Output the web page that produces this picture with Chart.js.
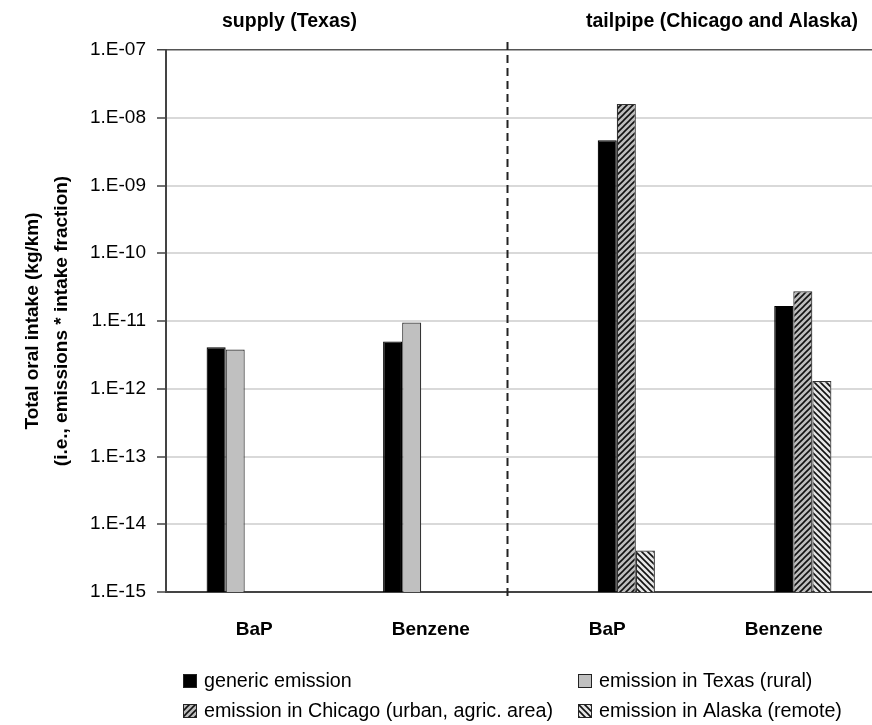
<!DOCTYPE html>
<html>
<head>
<meta charset="utf-8">
<script src="https://cdn.jsdelivr.net/npm/chart.js@4/dist/chart.umd.min.js"></script>
<style>
  html, body { margin: 0; padding: 0; background: #fff; }
  #wrap { width: 872px; height: 725px; position: relative; }
</style>
</head>
<body>
<div id="wrap"><canvas id="intakeChart" width="872" height="725"></canvas></div>
<script>
// substances on the x axis, two per source group
var categories = ['BaP', 'Benzene', 'BaP', 'Benzene'];
var groupLabels = ['supply (Texas)', 'tailpipe (Chicago and Alaska)'];

// total oral intake, kg/km
var genericSupply   = [4.1e-12, 5.0e-12, null, null];
var texasRural      = [3.8e-12, 9.5e-12, null, null];
var genericTailpipe = [null, null, 4.65e-9, 1.67e-11];
var chicagoUrban    = [null, null, 1.6e-8, 2.75e-11];
var alaskaRemote    = [null, null, 4.1e-15, 1.3e-12];

var seriesNames = [
    'generic emission',
    'emission in Texas (rural)',
    'emission in Chicago (urban, agric. area)',
    'emission in Alaska (remote)'
];

var yTickValues = [1e-15, 1e-14, 1e-13, 1e-12, 1e-11, 1e-10, 1e-9, 1e-8, 1e-7];
var yTickLabels = ['1.E-15', '1.E-14', '1.E-13', '1.E-12', '1.E-11', '1.E-10', '1.E-09', '1.E-08', '1.E-07'];

var canvas = document.getElementById('intakeChart');
var ctx = canvas.getContext('2d');

function makeHatch(bg, dir) {
    var tile = document.createElement('canvas');
    tile.width = 6; tile.height = 6;
    var g = tile.getContext('2d');
    g.fillStyle = bg;
    g.fillRect(0, 0, 6, 6);
    g.strokeStyle = '#111';
    g.lineWidth = 1.6;
    g.beginPath();
    if (dir > 0) {
        g.moveTo(-1, 7); g.lineTo(7, -1);
        g.moveTo(-1, 1); g.lineTo(1, -1);
        g.moveTo(5, 7); g.lineTo(7, 5);
    } else {
        g.moveTo(-1, -1); g.lineTo(7, 7);
        g.moveTo(5, -1); g.lineTo(7, 1);
        g.moveTo(-1, 5); g.lineTo(1, 7);
    }
    g.stroke();
    return ctx.createPattern(tile, 'repeat');
}

var chicagoFill = makeHatch('#bdbdbd', 1);
var alaskaFill = makeHatch('#e6e6e6', -1);
var swatchFills = ['#000000', '#c0c0c0', chicagoFill, alaskaFill];

// group headings, dashed separator and the two-column legend
var extrasPlugin = {
    id: 'extras',
    afterDatasetsDraw: function (chart) {
        var c = chart.ctx;
        var x = chart.scales.x;
        var area = chart.chartArea;
        c.save();
        // dashed separator between supply and tailpipe
        var sepX = Math.round(x.getPixelForValue(1.43)) + 0.5;
        c.strokeStyle = '#222';
        c.lineWidth = 2;
        c.setLineDash([8, 5]);
        c.beginPath();
        c.moveTo(sepX, area.top - 8);
        c.lineTo(sepX, area.bottom + 6);
        c.stroke();
        c.setLineDash([]);

        // group headings
        c.fillStyle = '#000';
        c.font = 'bold 19.5px "Liberation Sans", Arial, sans-serif';
        c.textAlign = 'center';
        c.textBaseline = 'middle';
        c.fillText(groupLabels[0], x.getPixelForValue(0.2), 22);
        c.fillText(groupLabels[1], x.getPixelForValue(2.65), 22);

        // legend
        var cols = [area.left + 17, area.left + 412];
        var rows = [681, 711];
        c.font = '19.7px "Liberation Sans", Arial, sans-serif';
        c.textAlign = 'left';
        for (var i = 0; i < seriesNames.length; i++) {
            var lx = cols[i % 2];
            var ly = rows[Math.floor(i / 2)];
            c.fillStyle = swatchFills[i];
            c.fillRect(lx, ly - 7, 14, 14);
            c.strokeStyle = '#222';
            c.lineWidth = 1;
            c.strokeRect(lx + 0.5, ly - 6.5, 13, 13);
            c.fillStyle = '#000';
            c.fillText(seriesNames[i], lx + 21, ly + 1);
        }
        c.restore();
    }
};

function barSet(label, data, fill, border) {
    return {
        label: label,
        data: data,
        backgroundColor: fill,
        borderColor: border,
        borderWidth: 1.2,
        borderSkipped: 'bottom',
        categoryPercentage: 0.54,
        barPercentage: 1.0
    };
}

new Chart(canvas, {
    type: 'bar',
    data: {
        labels: categories,
        datasets: [
            barSet(seriesNames[0], genericSupply, '#000000', '#000000'),
            barSet(seriesNames[1], texasRural, '#c0c0c0', '#333333'),
            barSet(seriesNames[0], genericTailpipe, '#000000', '#000000'),
            barSet(seriesNames[2], chicagoUrban, chicagoFill, '#333333'),
            barSet(seriesNames[3], alaskaRemote, alaskaFill, '#333333')
        ]
    },
    options: {
        responsive: false,
        animation: false,
        layout: { padding: { top: 50, right: 0, left: 0, bottom: 0 } },
        plugins: {
            legend: { display: false },
            tooltip: { enabled: false }
        },
        scales: {
            x: {
                grid: { display: false, drawTicks: false },
                border: { display: true, color: '#444', width: 2 },
                ticks: {
                    padding: 26,
                    color: '#000',
                    font: { family: '"Liberation Sans", Arial, sans-serif', size: 19, weight: 'bold' }
                },
                afterFit: function (s) { s.height = 133; }
            },
            y: {
                type: 'logarithmic',
                min: 1e-15,
                max: 1e-7,
                afterBuildTicks: function (s) {
                    s.ticks = yTickValues.map(function (v) { return { value: v }; });
                },
                afterFit: function (s) { s.width = 166; },
                grid: {
                    color: function (c) { return c.index === yTickValues.length - 1 ? '#555' : '#d9d9d9'; },
                    lineWidth: function (c) { return c.index === yTickValues.length - 1 ? 1.5 : 2; },
                    tickColor: '#444',
                    tickLength: 9,
                    tickWidth: 1.5
                },
                border: { display: true, color: '#444', width: 2 },
                ticks: {
                    padding: 11,
                    color: '#000',
                    font: { family: '"Liberation Sans", Arial, sans-serif', size: 19 },
                    callback: function (v, i) { return yTickLabels[i]; }
                },
                title: {
                    display: true,
                    text: ['Total oral intake (kg/km)', '(i.e., emissions * intake fraction)'],
                    color: '#000',
                    padding: { top: 18, bottom: 0 },
                    font: { family: '"Liberation Sans", Arial, sans-serif', size: 19, weight: 'bold', lineHeight: 1.55 }
                }
            }
        }
    },
    plugins: [extrasPlugin]
});
</script>
</body>
</html>
